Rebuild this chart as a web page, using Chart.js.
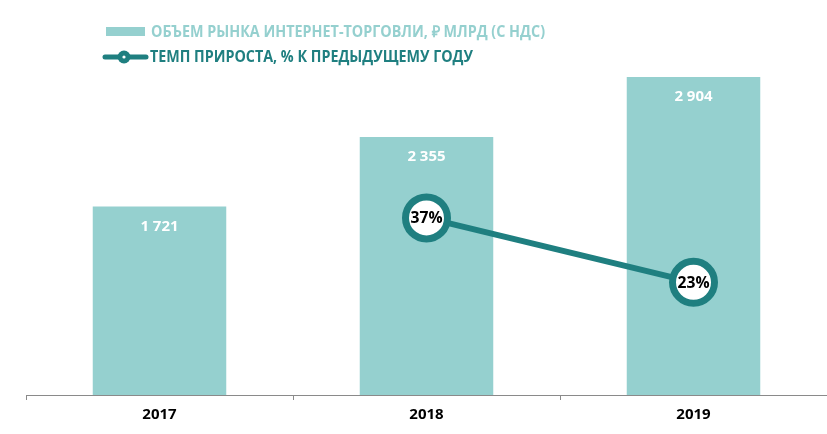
<!DOCTYPE html>
<html>
<head>
<meta charset="utf-8">
<script src="https://cdn.jsdelivr.net/npm/chart.js@4/dist/chart.umd.min.js"></script>
<style>
body{margin:0;background:#fff;}
canvas{display:block;}
</style>
</head>
<body>
<canvas id="chart" width="827" height="434"></canvas>
<script>
// data
const years = ['2017', '2018', '2019'];
const marketVolume = [1721, 2355, 2904];
const growthRate = [null, 37, 23];
const volumeLabel = 'ОБЪЕМ РЫНКА ИНТЕРНЕТ-ТОРГОВЛИ, ₽ МЛРД (С НДС)';
const growthLabel = 'ТЕМП ПРИРОСТА, % К ПРЕДЫДУЩЕМУ ГОДУ';

const barColor = '#95D0CF';
const lineColor = '#1F7F80';
const fontName = '"Open Sans", Lato, sans-serif';

function fmt(n){
  return String(n).replace(/\B(?=(\d{3})+(?!\d))/g, ' ');
}

/* values inside bars and circles */
const valueLabels = {
  id: 'valueLabels',
  afterDatasetsDraw(chart){
    const ctx = chart.ctx;
    ctx.save();
    ctx.textAlign = 'center';
    ctx.textBaseline = 'middle';

    let bars = chart.getDatasetMeta(0);
    ctx.fillStyle = '#fff';
    ctx.font = 'bold 15px ' + fontName;
    bars.data.forEach(function(el, i){
      ctx.fillText(fmt(marketVolume[i]), el.x, el.y + 20, 40);
    });

    let pts = chart.getDatasetMeta(1);
    ctx.fillStyle = '#000';
    ctx.font = 'bold 16px ' + fontName;
    pts.data.forEach(function(el, i){
      if(growthRate[i] === null) return;
      ctx.fillText(growthRate[i] + '%', el.x, el.y + 1, 32);
    });
    ctx.restore();
  }
};

/* legend drawn by hand, top left */
const topLegend = {
  id: 'topLegend',
  afterDraw(chart){
    const ctx = chart.ctx;
    ctx.save();
    ctx.textBaseline = 'middle';
    ctx.textAlign = 'left';
    ctx.font = 'bold 16px ' + fontName;

    ctx.fillStyle = barColor;
    ctx.fillRect(106, 27, 39, 9);
    ctx.fillText(volumeLabel, 151, 32, 394);

    ctx.strokeStyle = lineColor;
    ctx.lineWidth = 5;
    ctx.lineCap = 'round';
    ctx.beginPath();
    ctx.moveTo(105, 57);
    ctx.lineTo(146, 57);
    ctx.stroke();
    ctx.fillStyle = lineColor;
    ctx.beginPath();
    ctx.arc(124, 57, 6.5, 0, Math.PI * 2);
    ctx.fill();
    ctx.fillStyle = '#fff';
    ctx.beginPath();
    ctx.arc(124, 57, 1.6, 0, Math.PI * 2);
    ctx.fill();

    ctx.fillStyle = lineColor;
    ctx.fillText(growthLabel, 150, 57, 323);
    ctx.restore();
  }
};

let ctx = document.getElementById('chart').getContext('2d');

new Chart(ctx, {
  type: 'bar',
  data: {
    labels: years,
    datasets: [{
      type: 'bar',
      label: volumeLabel,
      data: marketVolume,
      backgroundColor: barColor,
      categoryPercentage: 1,
      barPercentage: 0.5,
      yAxisID: 'y',
      order: 2
    }, {
      type: 'line',
      label: growthLabel,
      data: growthRate,
      borderColor: lineColor,
      borderWidth: 6,
      pointRadius: 21,
      pointBorderWidth: 7,
      pointBackgroundColor: '#fff',
      pointBorderColor: lineColor,
      yAxisID: 'y2',
      order: 1
    }]
  },
  options: {
    responsive: false,
    animation: false,
    layout: {autoPadding: false, padding: {left: 26, right: 0, top: 50, bottom: 4}},
    plugins: {
      legend: {display: false},
      tooltip: {enabled: false}
    },
    scales: {
      x: {
        offset: true,
        grid: {offset: true, drawOnChartArea: false, tickLength: 5, color: '#8a8a8a'},
        border: {color: '#8a8a8a', width: 1},
        ticks: {color: '#000', padding: 6, font: {family: fontName, size: 15, weight: 'bold'}}
      },
      y: {display: false, min: 0, max: 3150},
      y2: {display: false, min: -1.5, max: 73.5}
    }
  },
  plugins: [valueLabels, topLegend]
});
</script>
</body>
</html>
